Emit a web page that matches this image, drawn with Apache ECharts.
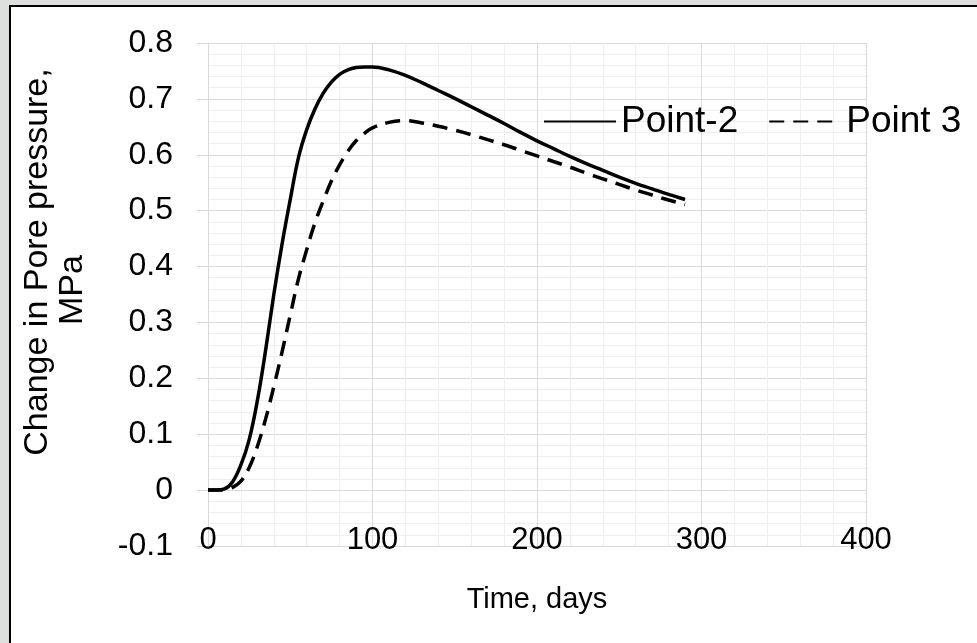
<!DOCTYPE html>
<html>
<head>
<meta charset="utf-8">
<script src="https://cdn.jsdelivr.net/npm/echarts@6/dist/echarts.min.js"></script>
<style>
html,body{margin:0;padding:0;background:#dde0dd;}
#c{width:977px;height:643px;}
</style>
</head>
<body>
<div id="c"></div>
<script>
// Time (days)
const days = [0,5,10,15,20,25,30,35,40,45,50,55,60,65,70,75,80,85,90,95,100,110,120,130,140,150,160,170,180,190,200,210,220,230,240,250,260,270,280,290];
// Point-2 (solid)
const point2 = [0,0,0.002,0.015,0.045,0.09,0.16,0.25,0.35,0.44,0.52,0.595,0.645,0.682,0.71,0.73,0.744,0.752,0.756,0.757,0.757,0.752,0.742,0.729,0.715,0.701,0.686,0.671,0.656,0.640,0.625,0.611,0.597,0.584,0.572,0.560,0.549,0.539,0.529,0.520];
// Point 3 (dashed)
const point3 = [0,0,0.001,0.005,0.016,0.04,0.078,0.127,0.185,0.247,0.313,0.378,0.43,0.478,0.517,0.553,0.582,0.606,0.625,0.638,0.648,0.658,0.661,0.657,0.651,0.644,0.636,0.627,0.618,0.608,0.598,0.588,0.578,0.567,0.557,0.547,0.537,0.528,0.519,0.511];
const seriesNames = ['Point-2','Point 3'];
const xTicks = [0,100,200,300,400];
const yTicks = [-0.1,0,0.1,0.2,0.3,0.4,0.5,0.6,0.7,0.8];
const xTitle = 'Time, days';
const yTitleLines = ['Change in Pore pressure,','MPa'];

const FONT = '"Liberation Sans", Arial, sans-serif';
const chart = echarts.init(document.getElementById('c'), null, {renderer:'canvas'});
const majorColor = '#d9d9d9';
const minorColor = '#eeeeee';

chart.setOption({
  backgroundColor: '#dde0dd',
  animation: false,
  textStyle: {fontFamily: FONT},
  graphic: [
    {type:'rect', z:-100, shape:{x:10, y:6, width:1000, height:700}, style:{fill:'#ffffff', stroke:'#000000', lineWidth:2}},
    {type:'text', z:10, x:38, y:262, rotation:Math.PI/2, style:{text:yTitleLines[0], font:'34px '+FONT, fill:'#000', align:'center', verticalAlign:'middle'}},
    {type:'text', z:10, x:73, y:290, rotation:Math.PI/2, style:{text:yTitleLines[1], font:'34px '+FONT, fill:'#000', align:'center', verticalAlign:'middle'}},
    {type:'text', z:10, x:537, y:600, style:{text:xTitle, font:'29px '+FONT, fill:'#000', align:'center', verticalAlign:'middle'}}
  ],
  grid: {left:208, right:111, top:43, bottom:97, containLabel:false},
  legend: {
    left: 538, top: 98,
    itemWidth: 72, itemHeight: 37, itemGap: 30,
    itemStyle: {opacity: 0},
    textStyle: {fontSize: 37, color:'#000', fontFamily: FONT},
    data: seriesNames
  },
  xAxis: [
    {
      type:'value', min:0, max:400, interval:100, position:'bottom',
      axisLine:{show:false, onZero:false},
      axisTick:{show:false},
      axisLabel:{inside:true, margin:6, verticalAlign:'middle', fontSize:31, color:'#000', fontFamily:FONT,
        formatter: v => xTicks.includes(v) ? String(v) : ''},
      splitLine:{show:true, lineStyle:{color:majorColor, width:1}},
      minorTick:{show:false, splitNumber:5},
      minorSplitLine:{show:true, lineStyle:{color:minorColor, width:1}}
    },
    {
      type:'value', min:0, max:400, interval:100, position:'bottom',
      axisLine:{show:true, onZero:true, lineStyle:{color:majorColor, width:1}},
      axisTick:{show:true, length:10, lineStyle:{color:majorColor}},
      axisLabel:{show:false},
      splitLine:{show:false}
    }
  ],
  yAxis: {
    type:'value', min:-0.1, max:0.8, interval:0.1,
    axisLine:{show:true, lineStyle:{color:majorColor, width:1}},
    axisTick:{show:true, length:11, lineStyle:{color:majorColor}},
    axisLabel:{margin:35, fontSize:32, color:'#000', fontFamily:FONT,
      formatter: v => { const r = Math.round(v*10)/10; return yTicks.some(t=>Math.abs(t-r)<1e-9) ? String(r) : ''; }},
    splitLine:{show:true, lineStyle:{color:majorColor, width:1}},
    minorTick:{show:false, splitNumber:5},
    minorSplitLine:{show:true, lineStyle:{color:minorColor, width:1}}
  },
  series: [
    {name:seriesNames[0], type:'line', xAxisIndex:0, smooth:0.4, showSymbol:false, symbol:'none',
     lineStyle:{color:'#000', width:3.5, type:'solid'}, itemStyle:{color:'#000'},
     data: days.map((d,i)=>[d, point2[i]])},
    {name:seriesNames[1], type:'line', xAxisIndex:0, smooth:0.4, showSymbol:false, symbol:'none',
     lineStyle:{color:'#000', width:3.5, type:[15,9]}, itemStyle:{color:'#000'},
     data: days.map((d,i)=>[d, point3[i]])}
  ]
});
</script>
</body>
</html>
